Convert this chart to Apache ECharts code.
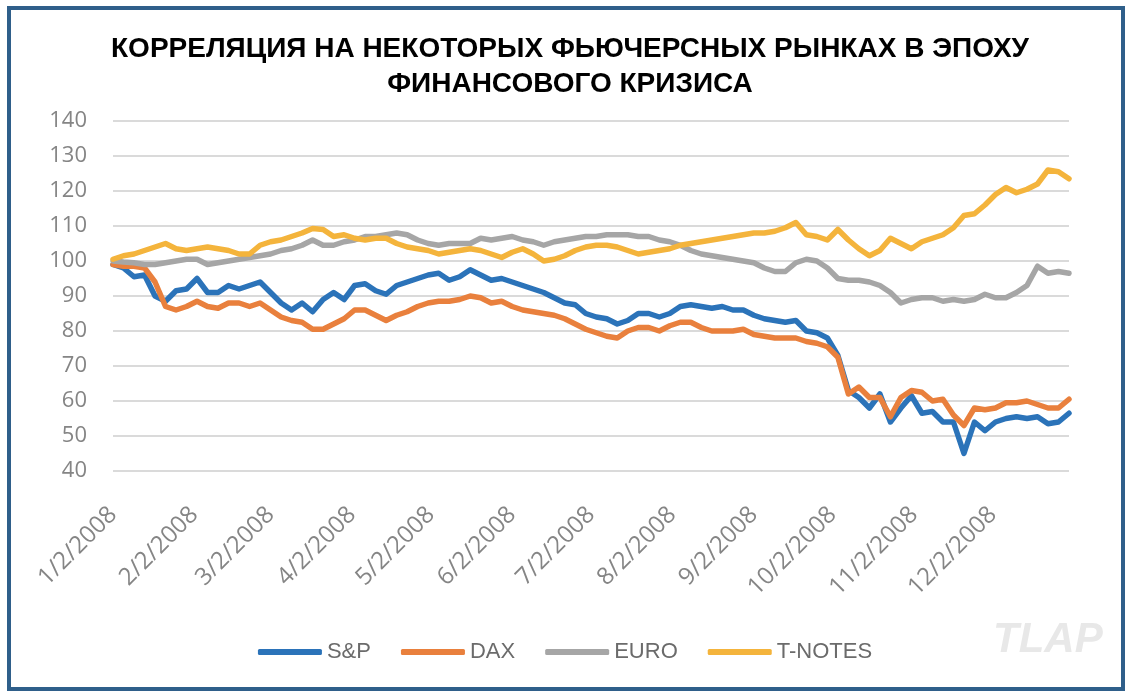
<!DOCTYPE html>
<html><head><meta charset="utf-8">
<script src="https://cdn.jsdelivr.net/npm/echarts@6/dist/echarts.min.js"></script>
<style>html,body{margin:0;padding:0;background:#fff}#c{width:1130px;height:696px}</style>
</head><body><div id="c"></div>
<script>
// Day offsets from 1/2/2008 (calendar days) at which values were read
const dayOffsets = [];
for (let d = 0; d <= 364; d += 4) dayOffsets.push(d);

const seriesNames = ['S&P', 'DAX', 'EURO', 'T-NOTES'];

const spValues = [
  99, 98, 95.5, 96, 90, 88.5, 91.5, 92, 95, 91,
  91, 93, 92, 93, 94, 91, 88, 86, 88, 85.5,
  89, 91, 89, 93, 93.5, 91.5, 90.5, 93, 94, 95,
  96, 96.5, 94.5, 95.5, 97.5, 96, 94.5, 95, 94, 93,
  92, 91, 89.5, 88, 87.5, 85, 84, 83.5, 82, 83,
  85, 85, 84, 85, 87, 87.5, 87, 86.5, 87, 86,
  86, 84.5, 83.5, 83, 82.5, 83, 80, 79.5, 78, 73,
  63, 61, 58, 62, 54, 58, 61.5, 56.5, 57, 54,
  54, 45, 54, 51.5, 54, 55, 55.5, 55, 55.5, 53.5,
  54, 56.5
];
const daxValues = [
  99, 98.5, 98.5, 98, 94, 87, 86, 87, 88.5, 87,
  86.5, 88, 88, 87, 88, 86, 84, 83, 82.5, 80.5,
  80.5, 82, 83.5, 86, 86, 84.5, 83, 84.5, 85.5, 87,
  88, 88.5, 88.5, 89, 90, 89.5, 88, 88.5, 87, 86,
  85.5, 85, 84.5, 83.5, 82, 80.5, 79.5, 78.5, 78, 80,
  81, 81, 80, 81.5, 82.5, 82.5, 81, 80, 80, 80,
  80.5, 79, 78.5, 78, 78, 78, 77, 76.5, 75.5, 72.5,
  62, 64, 61, 61, 55.5, 61, 63, 62.5, 60, 60.5,
  56, 53, 58, 57.5, 58, 59.5, 59.5, 60, 59, 58,
  58, 60.5
];
const euroValues = [
  100, 99.7, 99.5, 99, 99, 99.5, 100, 100.5, 100.5, 99,
  99.5, 100, 100.5, 101, 101.5, 102, 103, 103.5, 104.5, 106,
  104.5, 104.5, 105.5, 106, 107, 107, 107.5, 108, 107.5, 106,
  105, 104.5, 105, 105, 105, 106.5, 106, 106.5, 107, 106,
  105.5, 104.5, 105.5, 106, 106.5, 107, 107, 107.5, 107.5, 107.5,
  107, 107, 106, 105.5, 104.5, 103, 102, 101.5, 101, 100.5,
  100, 99.5, 98, 97, 97, 99.5, 100.5, 100, 98, 95,
  94.5, 94.5, 94, 93, 91, 88, 89, 89.5, 89.5, 88.5,
  89, 88.5, 89, 90.5, 89.5, 89.5, 91, 93, 98.5, 96.5,
  97, 96.5
];
const tnotesValues = [
  100.5, 101.5, 102, 103, 104, 105, 103.5, 103, 103.5, 104,
  103.5, 103, 102, 102, 104.5, 105.5, 106, 107, 108, 109.3,
  109, 107, 107.5, 106.5, 106, 106.5, 106.5, 105, 104, 103.5,
  103, 102, 102.5, 103, 103.5, 103, 102, 101, 102.5, 103.5,
  102, 100, 100.5, 101.5, 103, 104, 104.5, 104.5, 104, 103,
  102, 102.5, 103, 103.5, 104.5, 105, 105.5, 106, 106.5, 107,
  107.5, 108, 108, 108.5, 109.5, 111, 107.5, 107, 106, 109,
  106, 103.5, 101.5, 103, 106.5, 105, 103.5, 105.5, 106.5, 107.5,
  109.5, 113, 113.5, 116, 119, 121, 119.5, 120.5, 122, 126,
  125.5, 123.5
];

const seriesColors = ['#2b73b9', '#e9803d', '#a6a6a6', '#f4b43c'];
const yMin = 40, yMax = 140, yStep = 10;

// Calendar categories 1/2/2008 .. 12/31/2008
const categories = [];
const t0 = Date.UTC(2008, 0, 2);
for (let i = 0; i < 365; i++) {
  const dt = new Date(t0 + i * 86400000);
  categories.push((dt.getUTCMonth() + 1) + '/' + dt.getUTCDate() + '/' + dt.getUTCFullYear());
}

const allValues = [spValues, daxValues, euroValues, tnotesValues];

const chart = echarts.init(document.getElementById('c'), null, {renderer: 'canvas'});
chart.setOption({
  animation: false,
  backgroundColor: '#ffffff',
  title: {
    text: 'КОРРЕЛЯЦИЯ НА НЕКОТОРЫХ ФЬЮЧЕРСНЫХ РЫНКАХ В ЭПОХУ\nФИНАНСОВОГО КРИЗИСА',
    left: 565, top: 27,
    textAlign: 'center',
    textStyle: {fontFamily: 'Liberation Sans', fontWeight: 'bold', fontSize: 28, color: '#000', lineHeight: 35}
  },
  grid: {left: 113, right: 61, top: 121, bottom: 225},
  xAxis: {
    type: 'category', data: categories, boundaryGap: false,
    axisLine: {show: false}, axisTick: {show: false}, splitLine: {show: false},
    axisLabel: {
      interval: function (i, v) { return v.split('/')[1] === '2'; },
      rotate: 45, margin: 40, color: '#858585', fontSize: 24, fontFamily: 'Open Sans'
    }
  },
  yAxis: {
    type: 'value', min: yMin, max: yMax, interval: yStep,
    axisLine: {show: false}, axisTick: {show: false},
    axisLabel: {margin: 26, color: '#858585', fontSize: 22, fontFamily: 'Open Sans'},
    splitLine: {lineStyle: {color: '#dadada', width: 2}}
  },
  legend: {
    left: 'center', top: 636, icon: 'roundRect', itemWidth: 64, itemHeight: 6, itemGap: 30,
    textStyle: {fontSize: 22, color: '#6b6b6b', fontFamily: 'Liberation Sans'},
    data: seriesNames
  },
  graphic: [
    {type: 'rect', shape: {x: 9, y: 8, width: 1114, height: 681}, style: {fill: 'none', stroke: '#2f5f8a', lineWidth: 4}, silent: true},
    {type: 'text', left: 993, top: 619, style: {text: 'TLAP', font: 'italic bold 42px Liberation Sans', fill: '#e8e8e8'}, silent: true}
  ],
  series: seriesNames.map((name, k) => ({
    name: name, type: 'line', symbol: 'none', showSymbol: false,
    itemStyle: {color: seriesColors[k]},
    lineStyle: {color: seriesColors[k], width: 5.5, cap: 'round', join: 'round'},
    emphasis: {disabled: true},
    data: dayOffsets.map((d, i) => [d, allValues[k][i]])
  }))
});
</script>
</body></html>
